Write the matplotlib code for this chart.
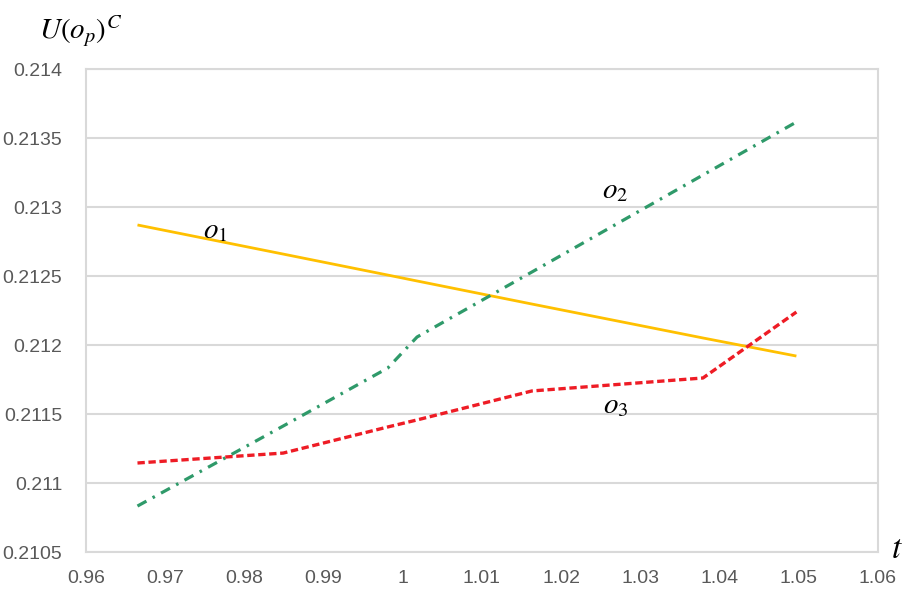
import matplotlib
matplotlib.use("Agg")
import matplotlib.pyplot as plt

plt.rcParams['mathtext.fontset'] = 'stix'
plt.rcParams['font.family'] = ['Liberation Sans', 'DejaVu Sans']

# sample points of t shared by all three curves
t = [0.9665, 0.9849, 0.9981, 1.0018, 1.0163, 1.0379, 1.0497]

o1 = [0.212870, 0.212659, 0.212507, 0.212464, 0.212297, 0.212051, 0.211920]
o2 = [0.210833, 0.211413, 0.211833, 0.212058, 0.212529, 0.213232, 0.213616]
o3 = [0.211145, 0.211217, 0.211406, 0.211457, 0.211667, 0.211761, 0.212239]

x_ticks = [0.96, 0.97, 0.98, 0.99, 1.0, 1.01, 1.02, 1.03, 1.04, 1.05, 1.06]
x_labels = ['0.96', '0.97', '0.98', '0.99', '1', '1.01', '1.02', '1.03', '1.04', '1.05', '1.06']
y_ticks = [0.2105, 0.211, 0.2115, 0.212, 0.2125, 0.213, 0.2135, 0.214]
y_labels = ['0.2105', '0.211', '0.2115', '0.212', '0.2125', '0.213', '0.2135', '0.214']

fig = plt.figure(figsize=(9.12, 5.94), dpi=100)
ax = fig.add_axes([0.0943, 0.0707, 0.8684, 0.8131])

grid_col = '#d9d9d9'
for y in y_ticks:
    ax.axhline(y, color=grid_col, lw=1.5, zorder=0)

ax.plot(t, o1, color='#ffc000', lw=2, solid_capstyle='butt', zorder=3)
ax.plot(t, o2, color='#2f9a6a', lw=2.3, dashes=(3.2, 2.2, 0.8, 2.2), zorder=3)
ax.plot(t, o3, color='#ee1c25', lw=2.4, dashes=(2.2, 1.1), zorder=3)

ax.set_xlim(0.96, 1.06)
ax.set_ylim(0.2105, 0.214)
ax.set_xticks(x_ticks)
ax.set_xticklabels(x_labels)
ax.set_yticks(y_ticks)
ax.set_yticklabels(y_labels)
ax.tick_params(length=0, labelsize=14, labelcolor='#595959')
ax.tick_params(axis='y', pad=17)
ax.tick_params(axis='x', pad=13)

for side in ['left', 'right', 'bottom', 'top']:
    ax.spines[side].set_color(grid_col)
    ax.spines[side].set_linewidth(1.5)

# curve labels
ax.text(0.97629, 0.212833, r'$o_1$', fontsize=21, ha='center', va='center')
ax.text(1.02684, 0.213123, r'$o_2$', fontsize=21, ha='center', va='center')
ax.text(1.02684, 0.211565, r'$o_3$', fontsize=21, ha='center', va='center')

# axis titles
fig.text(0.088, 0.948, r'$U\left(o_p\right)^C$', fontsize=21, ha='center', va='center')
fig.text(0.983, 0.075, r'$t$', fontsize=24, ha='center', va='center')

fig.savefig('out.png', dpi=100)
